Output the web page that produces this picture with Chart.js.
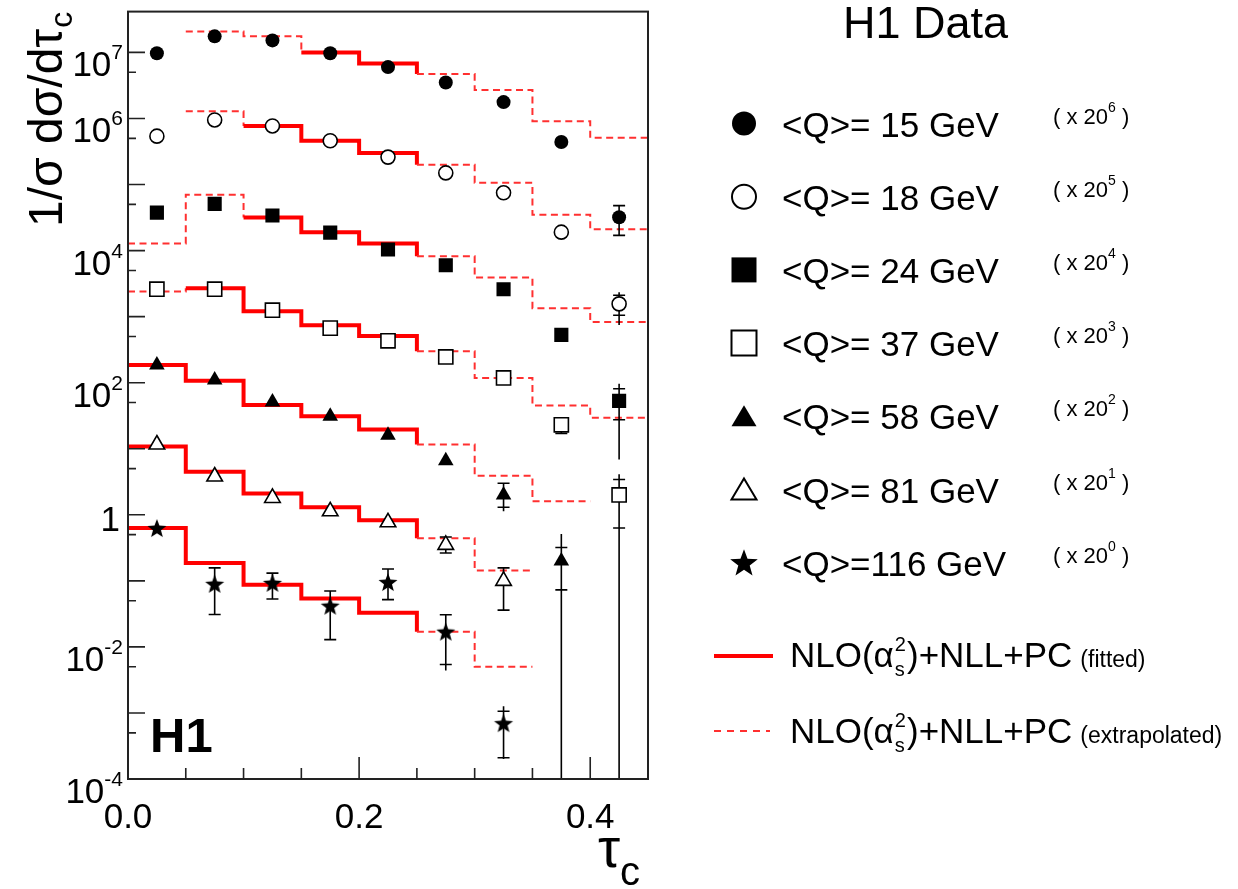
<!DOCTYPE html>
<html>
<head>
<meta charset="utf-8">
<title>H1 tau_c distributions</title>
<script src="https://cdn.jsdelivr.net/npm/chart.js@4.4.1/dist/chart.umd.min.js"></script>
<style>
  html, body { margin: 0; padding: 0; background: #fff; }
  #wrap { position: relative; width: 1238px; height: 889px; }
</style>
</head>
<body>
<div id="wrap"><canvas id="chart1" width="1238" height="889"></canvas></div>
<script>
// bin centres / edges in tau_c
const tauCentres = [0.025, 0.075, 0.125, 0.175, 0.225, 0.275, 0.325, 0.375, 0.425];
const binEdges = [0, 0.05, 0.1, 0.15, 0.2, 0.25, 0.3, 0.35, 0.4, 0.45];

const qLabels = ["<Q>= 15 GeV", "<Q>= 18 GeV", "<Q>= 24 GeV", "<Q>= 37 GeV",
                 "<Q>= 58 GeV", "<Q>= 81 GeV", "<Q>=116 GeV"];
const scalePowers = [6, 5, 4, 3, 2, 1, 0];

// H1 data points (already multiplied by 20^n)
const data15  = [9.7e6, 1.75e7, 1.52e7, 9.7e6, 6.0e6, 3.5e6, 1.77e6, 4.4e5, 3.2e4];
const data18  = [5.4e5, 9.5e5, 7.7e5, 4.6e5, 2.6e5, 1.5e5, 7.5e4, 1.9e4, 1.56e3];
const data24  = [3.75e4, 5.1e4, 3.4e4, 1.87e4, 1.04e4, 6.0e3, 2.6e3, 530, 53];
const data37  = [2.6e3, 2.6e3, 1.25e3, 670, 430, 245, 118, 23, 2.0];
const data58  = [186, 110, 51, 31, 16, 6.6, 2.0, 0.2, null];
const data81  = [11.6, 3.8, 1.8, 1.13, 0.77, 0.35, 0.1, null, null];
const data116 = [0.63, 0.09, 0.093, 0.042, 0.096, 0.017, 7.0e-4, null, null];

// NLO+NLL+PC prediction per bin
const theo15  = [null, 2.07e7, 1.75e7, 1.0e7, 6.8e6, 4.7e6, 2.7e6, 9.1e5, 5.1e5];
const theo18  = [null, 1.29e6, 7.7e5, 4.6e5, 3.0e5, 2.0e5, 1.06e5, 3.5e4, 2.1e4];
const theo24  = [1.28e4, 7.0e4, 3.16e4, 1.9e4, 1.28e4, 8.2e3, 3.9e3, 1.34e3, 830];
const theo37  = [2.4e3, 2.7e3, 1.21e3, 740, 510, 300, 118, 45, 29.5];
const theo58  = [186, 107, 46, 31, 19.5, 11.6, 3.9, 1.6, null];
const theo81  = [10.8, 4.5, 2.1, 1.3, 0.83, 0.44, 0.144, null, null];
const theo116 = [0.63, 0.186, 0.087, 0.054, 0.033, 0.017, 0.005, null, null];

// fitted bin range (inclusive), the rest is extrapolated
const fitFrom = [3, 2, 2, 1, 0, 0, 0];
const fitTo   = [4, 4, 4, 4, 4, 4, 4];

// total error [lo, hi] and inner (stat) error [lo, hi]; null = hidden by marker
const errTot15  = [null, null, null, null, null, null, null, null, [1.7e4, 4.8e4]];
const errTot18  = [null, null, null, null, null, null, null, null, [745, 2340]];
const errTot24  = [null, null, null, null, null, null, null, null, [6.9, 96]];
const errTot37  = [null, null, null, null, null, null, null, [17, 26], [1e-6, 4.1]];
const errTot58  = [null, null, null, null, null, null, [1.13, 3.0], [1e-6, 0.51], null];
const errTot81  = [null, null, null, null, null, [0.264, 0.46], [0.036, 0.157], null, null];
const errTot116 = [null, [0.031, 0.157], [0.053, 0.131], [0.0129, 0.070], [0.052, 0.151],
                   [0.0044, 0.0306], [2.0e-4, 1.26e-3], null, null];
const errStat37  = [null, null, null, null, null, null, null, null, [0.63, 3.43]];
const errStat18  = [null, null, null, null, null, null, null, null, [1050, 2110]];
const errStat24  = [null, null, null, null, null, null, null, null, [27.5, 81]];
const errStat58  = [null, null, null, null, null, null, [1.3, 3.0], [0.073, 0.32], null];
const errStat116 = [null, null, null, null, null, [0.0054, 0.0306], [2.1e-4, 1.06e-3], null, null];

const yLabelExps = [7, 6, 4, 2, 0, -2, -4];
const xLabelVals = [0, 0.2, 0.4];
const xLabelText = ["0.0", "0.2", "0.4"];

const allData = [data15, data18, data24, data37, data58, data81, data116];
const allTheo = [theo15, theo18, theo24, theo37, theo58, theo81, theo116];
const allTot  = [errTot15, errTot18, errTot24, errTot37, errTot58, errTot81, errTot116];
const allStat = [null, errStat18, errStat24, errStat37, errStat58, null, errStat116];

const FONT = '"Liberation Sans", Arial, sans-serif';

const markers = [
  { style: 'circle',   fill: '#000', r: 7 },
  { style: 'circle',   fill: '#fff', r: 7 },
  { style: 'rect',     fill: '#000', r: 10 },
  { style: 'rect',     fill: '#fff', r: 10 },
  { style: 'triangle', fill: '#000', r: 9 },
  { style: 'triangle', fill: '#fff', r: 9 },
  { style: 'star',     fill: '#000', r: 10 }
];

function starPath(g, cx, cy, R, r) {
  g.beginPath();
  for (let i = 0; i < 10; i++) {
    const rad = i % 2 ? r : R;
    const a = -Math.PI / 2 + i * Math.PI / 5;
    const px = cx + rad * Math.cos(a), py = cy + rad * Math.sin(a);
    if (i) g.lineTo(px, py); else g.moveTo(px, py);
  }
  g.closePath();
}

function makeStar(R) {
  const c = document.createElement('canvas');
  c.width = c.height = Math.ceil(2 * R + 2);
  const g = c.getContext('2d');
  starPath(g, c.width / 2, c.height / 2 + 1, R, R * 0.42);
  g.fillStyle = '#000';
  g.fill();
  return c;
}

const pointSets = allData.map((vals, k) => {
  const m = markers[k];
  return {
    label: qLabels[k],
    data: tauCentres.map((x, i) => ({ x: x, y: vals[i] })).filter(p => p.y != null),
    showLine: false,
    pointStyle: m.style === 'star' ? makeStar(m.r) : m.style,
    pointRadius: m.r,
    pointHoverRadius: m.r,
    backgroundColor: m.fill,
    borderColor: '#000',
    borderWidth: m.fill === '#fff' ? 1.6 : 0
  };
});

const theorySets = allTheo.map((vals, k) => {
  const first = vals.findIndex(v => v != null);
  let last = vals.length - 1;
  while (vals[last] == null) last--;
  const pts = [];
  for (let i = first; i <= last; i++) pts.push({ x: binEdges[i], y: vals[i] });
  pts.push({ x: binEdges[last + 1], y: vals[last] });
  const isFit = c => {
    const b = first + c.p0DataIndex;
    return b >= fitFrom[k] && b <= fitTo[k];
  };
  return {
    label: 'theory ' + qLabels[k],
    data: pts,
    showLine: true,
    stepped: 'before',
    pointRadius: 0,
    pointHoverRadius: 0,
    fill: false,
    borderColor: '#ff0000',
    borderWidth: 4,
    segment: {
      borderDash: c => isFit(c) ? [] : [7, 4.5],
      borderWidth: c => isFit(c) ? 4 : 2,
      borderColor: c => isFit(c) ? '#ff0000' : '#ff3030'
    }
  };
});

// error bars, drawn just before the markers
const errorBars = {
  id: 'errorBars',
  beforeDatasetDraw(chart, args) {
    if (args.index !== pointSets.length - 1) return;
    const { ctx, chartArea: a, scales: { x, y } } = chart;
    ctx.save();
    ctx.beginPath();
    ctx.rect(a.left, a.top, a.right - a.left, a.bottom - a.top);
    ctx.clip();
    ctx.strokeStyle = '#000';
    ctx.lineWidth = 1.6;
    allTot.forEach((tot, k) => tot.forEach((e, i) => {
      if (!e) return;
      const px = x.getPixelForValue(tauCentres[i]);
      ctx.beginPath();
      ctx.moveTo(px, y.getPixelForValue(e[0]));
      ctx.lineTo(px, y.getPixelForValue(e[1]));
      ctx.stroke();
      const st = (allStat[k] && allStat[k][i]) || e;
      st.forEach(v => {
        const py = y.getPixelForValue(v);
        ctx.beginPath();
        ctx.moveTo(px - 6, py);
        ctx.lineTo(px + 6, py);
        ctx.stroke();
      });
    }));
    ctx.restore();
  }
};

function legendMarker(g, k, cx, cy) {
  const m = markers[k];
  g.save();
  g.fillStyle = m.fill;
  g.strokeStyle = '#000';
  g.lineWidth = 2;
  g.beginPath();
  if (m.style === 'circle') g.arc(cx, cy, 12, 0, Math.PI * 2);
  else if (m.style === 'rect') g.rect(cx - 12.5, cy - 12.5, 25, 25);
  else if (m.style === 'triangle') {
    g.moveTo(cx, cy - 11); g.lineTo(cx + 12.5, cy + 10); g.lineTo(cx - 12.5, cy + 10); g.closePath();
  } else starPath(g, cx, cy + 1, 14.5, 6);
  g.fill();
  if (m.fill === '#fff') g.stroke();
  g.restore();
}

function drawNLO(g, x, base, note) {
  g.font = '35px ' + FONT;
  g.fillText('NLO(α', x, base);
  x += g.measureText('NLO(α').width + 1;
  g.font = '20px ' + FONT;
  g.fillText('2', x, base - 16);
  g.fillText('s', x, base + 9);
  x += g.measureText('2').width + 1;
  g.font = '35px ' + FONT;
  g.fillText(')+NLL+PC', x, base);
  x += g.measureText(')+NLL+PC').width + 8;
  g.font = '23px ' + FONT;
  g.fillText(note, x, base);
}

// frame, inward ticks, power-of-ten labels, titles and legend
const decorations = {
  id: 'decorations',
  afterDraw(chart) {
    const { ctx, chartArea: a, scales: { x, y } } = chart;
    ctx.save();
    ctx.strokeStyle = '#222';
    ctx.lineWidth = 2;
    ctx.strokeRect(a.left, a.top, a.right - a.left, a.bottom - a.top);

    ctx.lineWidth = 1.6;
    ctx.beginPath();
    for (let e = -4; e <= 7; e++) {
      const py = y.getPixelForValue(Math.pow(10, e));
      ctx.moveTo(a.left, py); ctx.lineTo(a.left + 17, py);
      const pm = y.getPixelForValue(5 * Math.pow(10, e - 1));
      if (pm < a.bottom) { ctx.moveTo(a.left, pm); ctx.lineTo(a.left + 8, pm); }
    }
    for (let i = 1; i < binEdges.length - 1; i++) {
      const px = x.getPixelForValue(binEdges[i]);
      const len = (i % 4 === 0) ? 22 : 11;
      ctx.moveTo(px, a.bottom); ctx.lineTo(px, a.bottom - len);
    }
    ctx.stroke();

    ctx.fillStyle = '#000';
    ctx.textBaseline = 'alphabetic';
    yLabelExps.forEach(e => {
      const py = y.getPixelForValue(Math.pow(10, e));
      if (e === 0) {
        ctx.font = '35px ' + FONT;
        ctx.textAlign = 'right';
        ctx.fillText('1', 120, py + 16);
        return;
      }
      const sup = String(e);
      ctx.font = '21px ' + FONT;
      const sw = ctx.measureText(sup).width;
      ctx.textAlign = 'left';
      ctx.fillText(sup, 123 - sw, py + 7);
      ctx.font = '35px ' + FONT;
      ctx.textAlign = 'right';
      ctx.fillText('10', 123 - sw, py + 24);
    });

    // y title
    ctx.textAlign = 'left';
    ctx.save();
    ctx.translate(62, 227);
    ctx.rotate(-Math.PI / 2);
    ctx.font = '48px ' + FONT;
    ctx.fillText('1/σ dσ/dτ', 0, 0);
    const tw = ctx.measureText('1/σ dσ/dτ').width;
    ctx.font = '32px ' + FONT;
    ctx.fillText('c', tw + 1, 10);
    ctx.restore();

    // x title
    ctx.font = '56px ' + FONT;
    ctx.fillText('τ', 598, 867);
    const tauW = ctx.measureText('τ').width;
    ctx.font = '40px ' + FONT;
    ctx.fillText('c', 598 + tauW, 885);

    ctx.font = 'bold 49px ' + FONT;
    ctx.fillText('H1', 150, 752);

    // legend
    ctx.font = '45px ' + FONT;
    ctx.fillText('H1 Data', 843, 38);
    qLabels.forEach((lab, k) => {
      const yc = 123.5 + 73.2 * k;
      legendMarker(ctx, k, 744, yc);
      ctx.fillStyle = '#000';
      ctx.font = '35px ' + FONT;
      ctx.fillText(lab, 782, yc + 13);
      let lx = 1053;
      ctx.font = '22px ' + FONT;
      ctx.fillText('( x 20', lx, yc);
      lx += ctx.measureText('( x 20').width;
      ctx.font = '14px ' + FONT;
      ctx.fillText(String(scalePowers[k]), lx, yc - 12);
      lx += ctx.measureText(String(scalePowers[k])).width;
      ctx.font = '22px ' + FONT;
      ctx.fillText(' )', lx, yc);
    });

    ctx.strokeStyle = '#ff0000';
    ctx.lineWidth = 4;
    ctx.beginPath(); ctx.moveTo(714, 656); ctx.lineTo(773, 656); ctx.stroke();
    ctx.strokeStyle = '#ff3030';
    ctx.lineWidth = 2;
    ctx.setLineDash([7, 6]);
    ctx.beginPath(); ctx.moveTo(714, 731); ctx.lineTo(770, 731); ctx.stroke();
    ctx.setLineDash([]);
    ctx.fillStyle = '#000';
    drawNLO(ctx, 790, 667, '(fitted)');
    drawNLO(ctx, 790, 743, '(extrapolated)');
    ctx.restore();
  }
};

console.log("building chart");
const chart1 = new Chart(document.getElementById('chart1'), {
  type: 'scatter',
  data: { datasets: pointSets.concat(theorySets) },
  options: {
    responsive: false,
    animation: false,
    events: [],
    layout: { padding: { left: 0, right: 590, top: 8, bottom: 0 } },
    plugins: { legend: { display: false }, tooltip: { enabled: false } },
    scales: {
      x: {
        type: 'linear', min: 0, max: 0.45,
        afterFit: s => { s.height = 110; },
        afterBuildTicks: s => { s.ticks = xLabelVals.map(v => ({ value: v })); },
        grid: { display: false, drawTicks: false },
        border: { display: false },
        ticks: {
          autoSkip: false, maxRotation: 0, padding: 18, color: '#000',
          font: { family: FONT, size: 35 },
          callback: v => xLabelText[xLabelVals.findIndex(t => Math.abs(t - v) < 1e-9)] || ''
        }
      },
      y: {
        type: 'logarithmic', min: 1e-4, max: 4.15e7,
        afterFit: s => { s.width = 128; },
        grid: { display: false, drawTicks: false },
        border: { display: false },
        ticks: { display: false }
      }
    }
  },
  plugins: [errorBars, decorations]
});
</script>
</body>
</html>
